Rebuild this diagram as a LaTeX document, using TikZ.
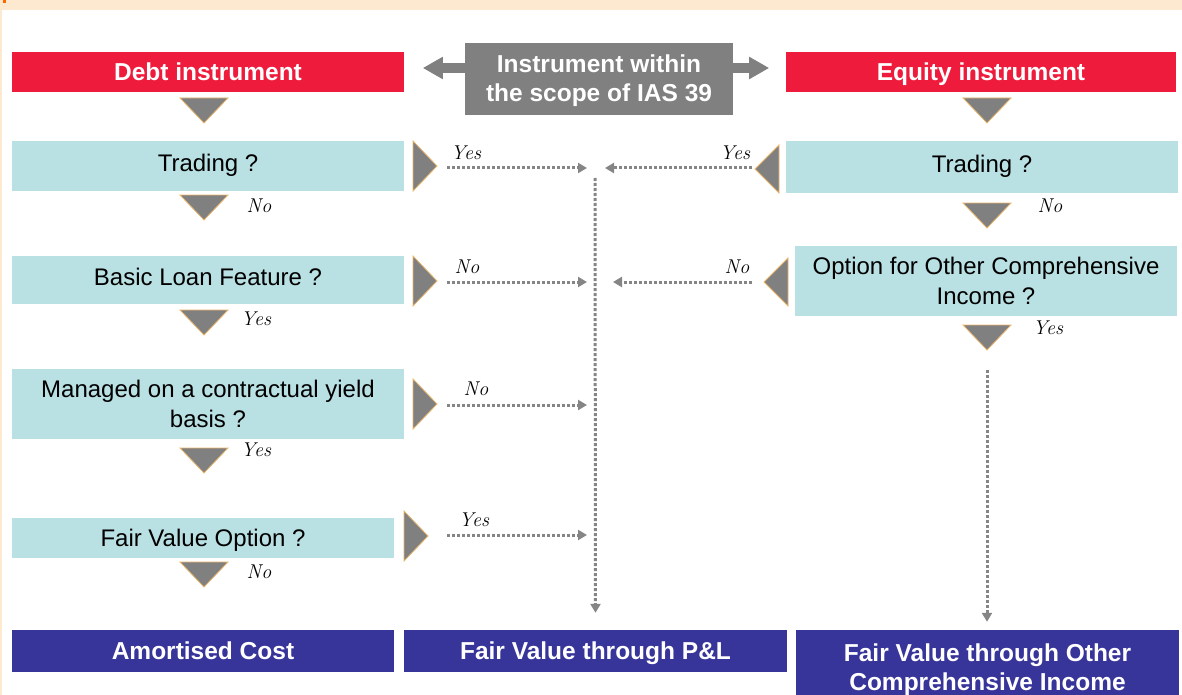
\documentclass[tikz,border=0pt]{standalone}
\usepackage{fontspec}
\setsansfont{Liberation Sans}
\usetikzlibrary{arrows.meta}

\definecolor{hdrred}{HTML}{EE1B3C}
\definecolor{askblue}{HTML}{B9E0E3}
\definecolor{resblue}{HTML}{37349A}
\definecolor{tipgray}{HTML}{808080}
\definecolor{dotgray}{HTML}{858585}
\definecolor{paper}{HTML}{FDE9CF}
\definecolor{rim}{HTML}{E9B56B}

\tikzset{
  one/.style={text height=17pt, text depth=0pt},
  two/.style={text height=46pt, text depth=0pt},
  hdr/.style={fill=hdrred, text=white, inner sep=0, align=center, one,
    font=\sffamily\bfseries\fontsize{24.5}{29}\selectfont},
  scopebox/.style={hdr, fill=tipgray},
  res/.style={hdr, fill=resblue},
  ask/.style={fill=askblue, text=black, inner sep=0, align=center,
    text height=17pt, text depth=6pt,
    font=\sffamily\fontsize{24}{30}\selectfont},
  ans/.style={inner sep=0, font=\itshape\fontsize{20}{20}\selectfont},
  flow/.style={dotgray, line width=3pt, dash pattern=on 3pt off 2pt,
    -{Triangle[length=9pt,width=10pt]}},
  block/.style={tipgray, line width=10pt, -{Triangle[length=20pt,width=21pt]}},
  tri/.style={fill=tipgray, draw=rim, line width=0.8pt, line join=miter},
  downtip/.pic={\filldraw[tri] (-24,0) -- (24,0) -- (0,25) -- cycle;},
  righttip/.pic={\filldraw[tri] (0,-25) -- (0,25) -- (24,0) -- cycle;},
  lefttip/.pic={\filldraw[tri] (0,-24) -- (0,24) -- (-24,0) -- cycle;}
}

\begin{document}
\begin{tikzpicture}[x=1pt, y=-1pt]
  \useasboundingbox (0,0) rectangle (1182,695);
  \fill[paper] (0,0) rectangle (1182,10);
  \fill[paper] (0,10) rectangle (2,695);
  \fill[orange!80!red] (3,0) rectangle (6,3);

  % top row
  \node[hdr, minimum width=392, minimum height=40] (debt) at (208,72) {Debt instrument};
  \node[scopebox, two, minimum width=268, minimum height=72] (scope) at (599,79) {Instrument within\\the scope of IAS 39};
  \node[hdr, minimum width=390, minimum height=40] (equity) at (981,72) {Equity instrument};
  \draw[block] (scope.west) ++(0,-11) coordinate (sl) -- ++(-42,0);
  \draw[block] (scope.east) ++(0,-11) coordinate (sr) -- ++(36,0);

  % debt side
  \node[ask, minimum width=392, minimum height=50] (dtrade) at (208,166) {Trading ?};
  \node[ask, minimum width=392, minimum height=48] (loan) at (208,280) {Basic Loan Feature ?};
  \node[ask, two, minimum width=392, minimum height=70] (yield) at (208,404) {Managed on a contractual yield\\basis ?};
  \node[ask, one, minimum width=382, minimum height=40] (fvo) at (203,538) {Fair Value Option ?};

  % equity side
  \node[ask, minimum width=392, minimum height=52] (etrade) at (982,167) {Trading ?};
  \node[ask, two, minimum width=382, minimum height=70] (oci) at (986,281) {Option for Other Comprehensive\\Income ?};

  % results
  \node[res, minimum width=382, minimum height=42] (amort) at (203,651) {Amortised Cost};
  \node[res, minimum width=383, minimum height=42] (fvpl) at (595.5,651) {Fair Value through P\&L};
  \node[res, two, minimum width=383, minimum height=74] (fvoci) at (987.5,667) {Fair Value through Other\\Comprehensive Income};

  % down steps
  \pic at (204,98) {downtip};
  \pic at (987,98) {downtip};
  \pic at (204,195) {downtip};
  \pic at (987,203) {downtip};
  \pic at (204,310) {downtip};
  \pic at (987,325) {downtip};
  \pic at (204,448) {downtip};
  \pic at (204,562) {downtip};

  % side steps
  \pic at (413,166) {righttip};
  \pic at (413,281) {righttip};
  \pic at (413,404) {righttip};
  \pic at (404,536) {righttip};
  \pic at (779,169) {lefttip};
  \pic at (788,282) {lefttip};

  % answers
  \node[ans] (a1) at (466,153) {Yes};
  \node[ans] (a2) at (735,153) {Yes};
  \node[ans] (a3) at (259,206) {No};
  \node[ans] (a4) at (1050,206) {No};
  \node[ans] (a5) at (467,267) {No};
  \node[ans] (a6) at (737,267) {No};
  \node[ans] (a7) at (256,319) {Yes};
  \node[ans] (a8) at (1048,328) {Yes};
  \node[ans] (a9) at (476,389) {No};
  \node[ans] (a10) at (256,450) {Yes};
  \node[ans] (a11) at (474,520) {Yes};
  \node[ans] (a12) at (259,572) {No};

  % dotted flows
  \coordinate (d1) at (447,168);
  \coordinate (d2) at (447,282);
  \coordinate (d3) at (447,405);
  \coordinate (d4) at (447,535);
  \coordinate (e1) at (752,168);
  \coordinate (e2) at (752,282);
  \coordinate (top) at (595,178);
  \coordinate (eqtop) at (987,370);
  \draw[flow] (d1) -- ([xshift=-8]d1 -| top);
  \draw[flow] (d2) -- ([xshift=-8]d2 -| top);
  \draw[flow] (d3) -- ([xshift=-8]d3 -| top);
  \draw[flow] (d4) -- ([xshift=-8]d4 -| top);
  \draw[flow] (e1) -- ([xshift=10]e1 -| top);
  \draw[flow] (e2) -- ([xshift=18]e2 -| top);
  \draw[flow] (top) -- ([yshift=17]fvpl.north);
  \draw[flow] (eqtop) -- ([yshift=8]fvoci.north -| eqtop);
\end{tikzpicture}
\end{document}
